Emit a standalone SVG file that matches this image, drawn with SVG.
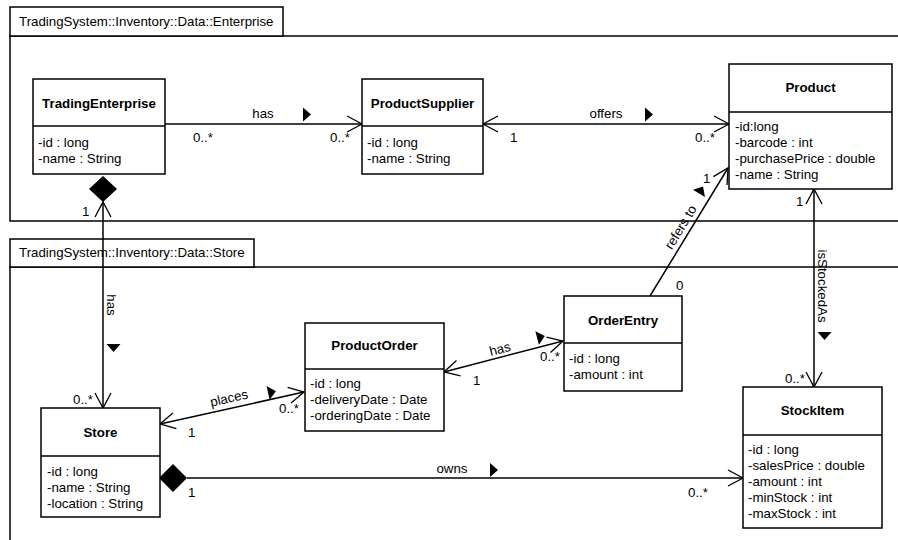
<svg xmlns="http://www.w3.org/2000/svg" width="898" height="540" viewBox="0 0 898 540">
<style>
text{font-family:"Liberation Sans",Arial,sans-serif;font-size:13.3px;fill:#000}
.t{font-weight:bold;text-anchor:middle}
.m{text-anchor:middle}
.box{fill:#fff;stroke:#000;stroke-width:1.5}
.pkg{fill:#fff;stroke:#000;stroke-width:1.5}
.ln{stroke:#000;stroke-width:1.5;fill:none}
.c{stroke:#000;stroke-width:1.5;fill:none}
.fill{fill:#000;stroke:none}
</style>
<defs>
<marker id="open" markerWidth="20" markerHeight="20" refX="0" refY="0" viewBox="-18 -10 20 20" orient="auto-start-reverse" markerUnits="userSpaceOnUse">
<path d="M-15,-8 L0,0 L-15,8" fill="none" stroke="#000" stroke-width="1.3"/>
</marker>
<path id="tri" d="M-4,-7 L4,0 L-4,7 Z"/>
</defs>

<g id="pkg-enterprise">
<rect class="pkg" x="10" y="36" width="900" height="185"/>
<rect class="pkg" x="10" y="7" width="273" height="29"/>
<text x="19" y="26">TradingSystem::Inventory::Data::Enterprise</text>
</g>
<g id="pkg-store">
<rect class="pkg" x="10" y="267" width="900" height="300"/>
<rect class="pkg" x="10" y="239" width="244" height="28"/>
<text x="19" y="257">TradingSystem::Inventory::Data::Store</text>
</g>

<g id="connectors">
<line class="c" x1="165" y1="124" x2="362" y2="124" marker-end="url(#open)"/>
<line class="c" x1="483" y1="124" x2="729" y2="124" marker-start="url(#open)" marker-end="url(#open)"/>
<line class="c" x1="103" y1="202" x2="103" y2="408" marker-start="url(#open)" marker-end="url(#open)"/>
<polygon class="fill" points="103,176 117,189 103,202 89,189"/>
<line class="c" x1="160" y1="424" x2="304" y2="392" marker-start="url(#open)" marker-end="url(#open)"/>
<polygon class="fill" points="159,478 173,464 187,478 173,492"/>
<line class="c" x1="187" y1="478" x2="743" y2="478" marker-end="url(#open)"/>
<line class="c" x1="444" y1="372" x2="563" y2="341" marker-start="url(#open)" marker-end="url(#open)"/>
<line class="c" x1="650" y1="296" x2="728" y2="168" marker-end="url(#open)"/>
<line class="c" x1="814" y1="189" x2="814" y2="387" marker-start="url(#open)" marker-end="url(#open)"/>

<use href="#tri" transform="translate(307,114.5)"/>
<use href="#tri" transform="translate(649,114.5)"/>
<use href="#tri" transform="translate(494,470)"/>
<use href="#tri" transform="translate(113.5,348) rotate(90)"/>
<use href="#tri" transform="translate(824.5,336) rotate(90)"/>
<use href="#tri" transform="translate(272,392) rotate(-12.6)"/>
<use href="#tri" transform="translate(541,337) rotate(-14.6)"/>
<use href="#tri" transform="translate(701,190) rotate(-58.8)"/>

<text class="m" x="263" y="118">has</text>
<text x="193" y="142">0..*</text>
<text x="330" y="142">0..*</text>
<text class="m" x="606" y="118">offers</text>
<text x="510" y="142">1</text>
<text x="695" y="142">0..*</text>
<text x="82" y="216">1</text>
<text class="m" transform="translate(107,305) rotate(90)">has</text>
<text x="73" y="404">0..*</text>
<text class="m" transform="translate(230,402.5) rotate(-12.6)">places</text>
<text x="188" y="437">1</text>
<text x="279" y="413">0..*</text>
<text class="m" x="452" y="473">owns</text>
<text x="188" y="497">1</text>
<text x="688" y="497">0..*</text>
<text class="m" transform="translate(501,353.4) rotate(-14.6)">has</text>
<text x="473" y="385">1</text>
<text x="540" y="361">0..*</text>
<text class="m" transform="translate(684.5,229.5) rotate(-58.8)">refers to</text>
<text x="676" y="290">0</text>
<text x="703" y="183">1</text>
<text class="m" transform="translate(818,286) rotate(90)">isStockedAs</text>
<text x="796" y="206">1</text>
<text x="785" y="383">0..*</text>
</g>

<g id="TradingEnterprise">
<rect class="box" x="33" y="79" width="132" height="95"/>
<line class="ln" x1="33" y1="126" x2="165" y2="126"/>
<text class="t" x="99" y="107.5">TradingEnterprise</text>
<text x="38" y="147">-id : long</text>
<text x="38" y="163">-name : String</text>
</g>

<g id="ProductSupplier">
<rect class="box" x="362" y="79" width="121" height="95"/>
<line class="ln" x1="362" y1="126" x2="483" y2="126"/>
<text class="t" x="422.5" y="108">ProductSupplier</text>
<text x="367" y="147">-id : long</text>
<text x="367" y="163">-name : String</text>
</g>

<g id="Product">
<rect class="box" x="729" y="64" width="163" height="125"/>
<line class="ln" x1="729" y1="112" x2="892" y2="112"/>
<text class="t" x="810.5" y="92">Product</text>
<text x="735" y="131">-id:long</text>
<text x="735" y="147">-barcode : int</text>
<text x="735" y="163">-purchasePrice : double</text>
<text x="735" y="179">-name : String</text>
</g>

<g id="Store">
<rect class="box" x="41" y="408" width="119" height="109"/>
<line class="ln" x1="41" y1="456" x2="160" y2="456"/>
<text class="t" x="100.5" y="437">Store</text>
<text x="47" y="476">-id : long</text>
<text x="47" y="492">-name : String</text>
<text x="47" y="508">-location : String</text>
</g>

<g id="ProductOrder">
<rect class="box" x="305" y="323" width="139" height="108"/>
<line class="ln" x1="305" y1="369" x2="444" y2="369"/>
<text class="t" x="374.5" y="350">ProductOrder</text>
<text x="310" y="388">-id : long</text>
<text x="310" y="404">-deliveryDate : Date</text>
<text x="310" y="420">-orderingDate : Date</text>
</g>

<g id="OrderEntry">
<rect class="box" x="564" y="296" width="118" height="95"/>
<line class="ln" x1="564" y1="343" x2="682" y2="343"/>
<text class="t" x="623" y="325">OrderEntry</text>
<text x="569" y="363">-id : long</text>
<text x="569" y="379">-amount : int</text>
</g>

<g id="StockItem">
<rect class="box" x="743" y="387" width="139" height="141"/>
<line class="ln" x1="743" y1="435" x2="882" y2="435"/>
<text class="t" x="812.5" y="415">StockItem</text>
<text x="748" y="454">-id : long</text>
<text x="748" y="470">-salesPrice : double</text>
<text x="748" y="486">-amount : int</text>
<text x="748" y="502">-minStock : int</text>
<text x="748" y="518">-maxStock : int</text>
</g>
</svg>
